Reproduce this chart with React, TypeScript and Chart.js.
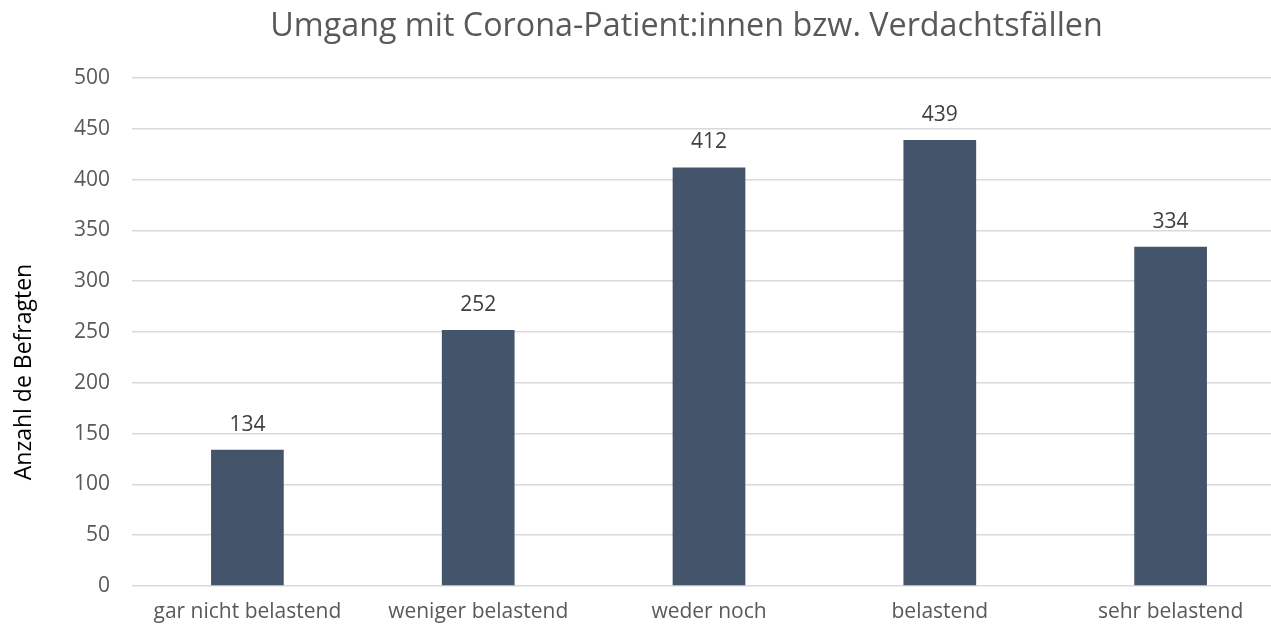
import React, { useEffect, useRef } from "react";
import { Chart, registerables } from "chart.js";

Chart.register(...registerables);

const categories = ["gar nicht belastend", "weniger belastend", "weder noch", "belastend", "sehr belastend"];
const values = [134, 252, 412, 439, 334];
const titleText = "Umgang mit Corona-Patient:innen bzw. Verdachtsfällen";
const yAxisTitle = "Anzahl de Befragten";

const FONT = "'Open Sans', sans-serif";

const labelPlugin = {
  id: "valueLabels",
  afterDatasetsDraw(chart: any) {
    const ctx = chart.ctx;
    const meta = chart.getDatasetMeta(0);
    ctx.save();
    ctx.font = `21px ${FONT}`;
    ctx.fillStyle = "#404040";
    ctx.textAlign = "center";
    ctx.textBaseline = "middle";
    meta.data.forEach((bar: any, i: number) => {
      ctx.fillText(String(values[i]), bar.x, bar.y - 25);
    });
    ctx.restore();
  },
};

const textPlugin = {
  id: "texts",
  afterDraw(chart: any) {
    const ctx = chart.ctx;
    ctx.save();
    ctx.textAlign = "center";
    ctx.textBaseline = "middle";
    ctx.font = `32.3px ${FONT}`;
    ctx.fillStyle = "#595959";
    ctx.fillText(titleText, 686.5, 27);
    ctx.font = `23px ${FONT}`;
    ctx.fillStyle = "#000000";
    ctx.translate(24, 372);
    ctx.rotate(-Math.PI / 2);
    ctx.fillText(yAxisTitle, 0, 0);
    ctx.restore();
  },
};

export default function App() {
  const ref = useRef<HTMLCanvasElement>(null);
  useEffect(() => {
    document.body.style.margin = "0";
    const chart = new Chart(ref.current!, {
      type: "bar",
      data: {
        labels: categories,
        datasets: [
          {
            data: values,
            backgroundColor: "#44546A",
            barPercentage: 0.315,
            categoryPercentage: 1,
          },
        ],
      },
      options: {
        animation: false,
        responsive: false,
        maintainAspectRatio: false,
        layout: { padding: { left: 0, right: 4, top: 78, bottom: 0 } },
        plugins: {
          legend: { display: false },
          tooltip: { enabled: false },
          title: { display: false },
        },
        scales: {
          x: {
            grid: { display: false },
            border: { display: false },
            ticks: {
              color: "#595959",
              font: { family: FONT, size: 21 },
              padding: 5,
              maxRotation: 0,
              autoSkip: false,
            },
            afterFit(scale: any) {
              scale.height = 41;
            },
          },
          y: {
            min: 0,
            max: 500,
            grid: { color: "#d9d9d9", lineWidth: 1.5, drawTicks: false },
            border: { display: false },
            ticks: {
              stepSize: 50,
              color: "#595959",
              font: { family: FONT, size: 21 },
              padding: 22,
            },
            afterFit(scale: any) {
              scale.width = 132;
            },
          },
        },
      },
      plugins: [labelPlugin, textPlugin],
    });
    return () => chart.destroy();
  }, []);
  return (
    <div style={{ width: 1271, height: 627, position: "relative", overflow: "hidden" }}>
      <canvas ref={ref} width={1290} height={627} style={{ display: "block" }} />
    </div>
  );
}
